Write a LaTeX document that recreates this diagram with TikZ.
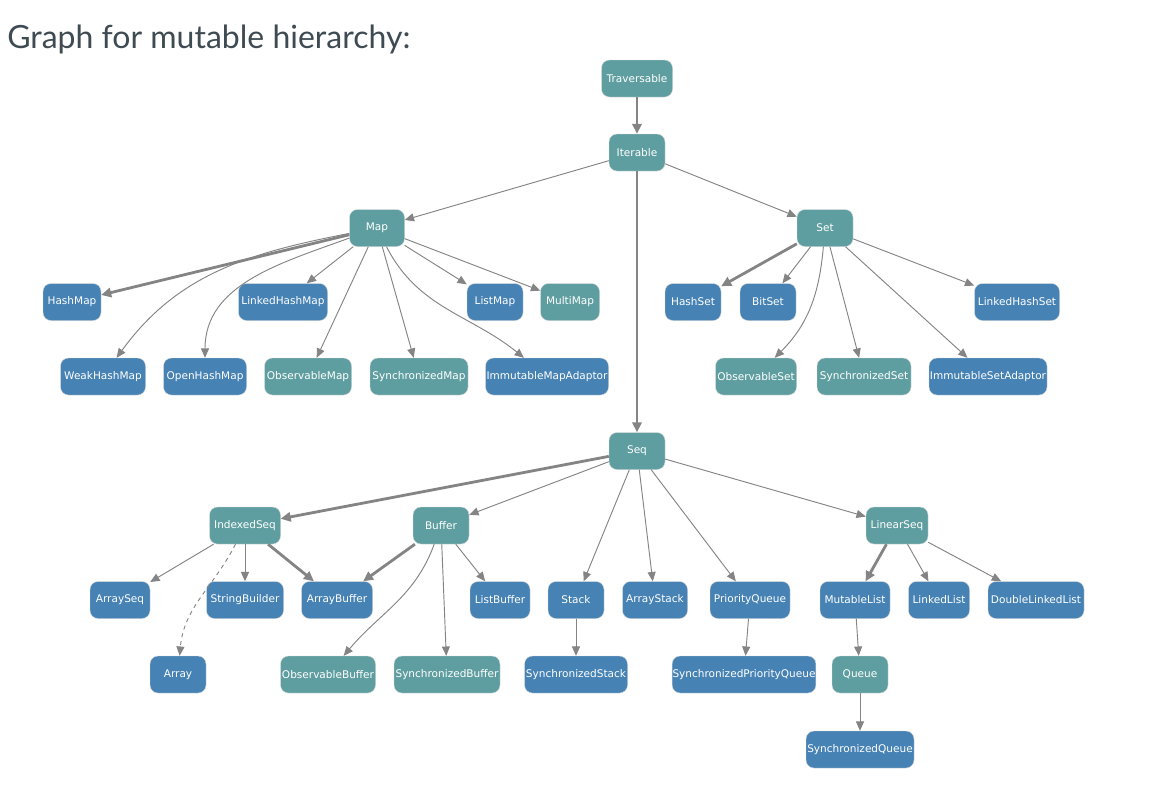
\documentclass[tikz,border=0pt]{standalone}
\usepackage{fontspec}
\setmainfont{DejaVu Sans}
\newfontfamily\titlefont{Lato}
\usetikzlibrary{arrows.meta}
\definecolor{tealc}{HTML}{5F9EA0}
\definecolor{bluec}{HTML}{4682B4}
\definecolor{edgec}{HTML}{848484}
\definecolor{titlec}{HTML}{3F4B52}
\begin{document}
\begin{tikzpicture}[x=0.75pt,y=0.75pt,
  box/.style={rounded corners=6pt, minimum height=27.75pt, inner xsep=0.3pt, inner ysep=0pt,
    text=white, font=\fontsize{7.9}{9}\selectfont, draw=white!85!black, line width=0.3pt},
  tb/.style={box, fill=tealc},
  bb/.style={box, fill=bluec},
  w/.style={minimum width=#1},
  edge/.style={draw=edgec, line width=0.7pt, -{Triangle[length=7pt,width=6pt]}},
  thk/.style={edge, line width=2.1pt, -{Triangle[length=7.5pt,width=7pt]}},
  dsh/.style={edge, dashed}
]
\useasboundingbox[fill=white] (0,0) rectangle (1156,-804);
\node[anchor=base west, font=\titlefont\fontsize{24}{28}\selectfont, text=titlec, inner sep=0pt] (title) at (7,-48) {Graph for mutable hierarchy:};

% nodes
\node[tb, w=53.25pt] (Traversable) at (637,-78.5) {Traversable};
\node[tb, w=42pt] (Iterable) at (637,-152.5) {Iterable};
\node[tb, w=41.25pt] (Map) at (377,-228) {Map};
\node[tb, w=42pt] (Set) at (825,-228) {Set};
\node[bb, w=43.5pt] (HashMap) at (72,-302) {HashMap};
\node[bb, w=66.75pt] (LinkedHashMap) at (283,-302) {LinkedHashMap};
\node[bb, w=42pt] (ListMap) at (495,-302) {ListMap};
\node[tb, w=44.25pt] (MultiMap) at (570,-302) {MultiMap};
\node[bb, w=63.75pt] (WeakHashMap) at (103,-376.5) {WeakHashMap};
\node[bb, w=62.25pt] (OpenHashMap) at (205,-376.5) {OpenHashMap};
\node[tb, w=65.25pt] (ObservableMap) at (308,-376.5) {ObservableMap};
\node[tb, w=73.5pt] (SynchronizedMap) at (419,-376.5) {SynchronizedMap};
\node[bb, w=92.25pt] (ImmutableMapAdaptor) at (547,-376.5) {ImmutableMapAdaptor};
\node[bb, w=42pt] (HashSet) at (693,-302) {HashSet};
\node[bb, w=42pt] (BitSet) at (768,-302) {BitSet};
\node[bb, w=63.75pt] (LinkedHashSet) at (1017,-302) {LinkedHashSet};
\node[tb, w=60.75pt] (ObservableSet) at (756,-376.5) {ObservableSet};
\node[tb, w=70.5pt] (SynchronizedSet) at (864,-376.5) {SynchronizedSet};
\node[bb, w=88.5pt] (ImmutableSetAdaptor) at (988,-376.5) {ImmutableSetAdaptor};
\node[tb, w=42pt] (Seq) at (637,-451) {Seq};
\node[tb, w=53.25pt] (IndexedSeq) at (245,-525.5) {IndexedSeq};
\node[tb, w=42pt] (Buffer) at (441,-525.5) {Buffer};
\node[tb, w=46.5pt] (LinearSeq) at (897,-525.5) {LinearSeq};
\node[bb, w=45pt] (ArraySeq) at (120,-600) {ArraySeq};
\node[bb, w=57.75pt] (StringBuilder) at (245,-600) {StringBuilder};
\node[bb, w=53.25pt] (ArrayBuffer) at (337,-600) {ArrayBuffer};
\node[bb, w=45pt] (ListBuffer) at (500,-600) {ListBuffer};
\node[bb, w=42pt] (Stack) at (576,-600) {Stack};
\node[bb, w=48.75pt] (ArrayStack) at (655,-600) {ArrayStack};
\node[bb, w=60pt] (PriorityQueue) at (750,-600) {PriorityQueue};
\node[bb, w=52.5pt] (MutableList) at (855,-600) {MutableList};
\node[bb, w=45.75pt] (LinkedList) at (939,-600) {LinkedList};
\node[bb, w=72pt] (DoubleLinkedList) at (1036,-600) {DoubleLinkedList};
\node[bb, w=42pt] (Array) at (178,-674.5) {Array};
\node[tb, w=71.25pt] (ObservableBuffer) at (328,-674.5) {ObservableBuffer};
\node[tb, w=79.5pt] (SynchronizedBuffer) at (447,-674.5) {SynchronizedBuffer};
\node[bb, w=77.25pt] (SynchronizedStack) at (576,-674.5) {SynchronizedStack};
\node[bb, w=106.5pt] (SynchronizedPriorityQueue) at (744,-674.5) {SynchronizedPriorityQueue};
\node[tb, w=42pt] (Queue) at (860,-674.5) {Queue};
\node[bb, w=81pt] (SynchronizedQueue) at (860,-749.5) {SynchronizedQueue};

% edges
\draw[thk] (Traversable) -- (Iterable);
\draw[edge] (Iterable) -- (Map);
\draw[edge] (Iterable) -- (Set);
\draw[thk] (Iterable) -- (Seq);

\draw[thk] (Map) -- (HashMap);
\draw[edge] (Map) to[out=191,in=54] (WeakHashMap);
\draw[edge] (Map) to[out=200,in=90] (OpenHashMap);
\draw[edge] (Map) -- (LinkedHashMap);
\draw[edge] (Map) -- (ObservableMap);
\draw[edge] (Map) -- (SynchronizedMap);
\draw[edge] (Map) to[out=297,in=141] (ImmutableMapAdaptor);
\draw[edge] (Map) -- (ListMap);
\draw[edge] (Map) -- (MultiMap);

\draw[thk] (Set) -- (HashSet);
\draw[edge] (Set) -- (BitSet);
\draw[edge] (Set) to[out=265,in=45] (ObservableSet);
\draw[edge] (Set) -- (SynchronizedSet);
\draw[edge] (Set) -- (ImmutableSetAdaptor);
\draw[edge] (Set) -- (LinkedHashSet);

\draw[thk] (Seq) -- (IndexedSeq);
\draw[edge] (Seq) -- (Buffer);
\draw[edge] (Seq) -- (Stack);
\draw[edge] (Seq) -- (ArrayStack);
\draw[edge] (Seq) -- (PriorityQueue);
\draw[edge] (Seq) -- (LinearSeq);

\draw[edge] (IndexedSeq) -- (ArraySeq);
\draw[dsh] (IndexedSeq) to[out=243,in=85] (Array);
\draw[edge] (IndexedSeq) -- (StringBuilder);
\draw[thk] (IndexedSeq) -- (ArrayBuffer);

\draw[thk] (Buffer) -- (ArrayBuffer);
\draw[edge] (Buffer) to[out=250,in=50] (ObservableBuffer);
\draw[edge] (Buffer) -- (SynchronizedBuffer);
\draw[edge] (Buffer) -- (ListBuffer);

\draw[edge] (Stack) -- (SynchronizedStack);
\draw[edge] (PriorityQueue) -- (SynchronizedPriorityQueue);
\draw[thk] (LinearSeq) -- (MutableList);
\draw[edge] (LinearSeq) -- (LinkedList);
\draw[edge] (LinearSeq) -- (DoubleLinkedList);
\draw[edge] (MutableList) -- (Queue);
\draw[edge] (Queue) -- (SynchronizedQueue);
\end{tikzpicture}
\end{document}
